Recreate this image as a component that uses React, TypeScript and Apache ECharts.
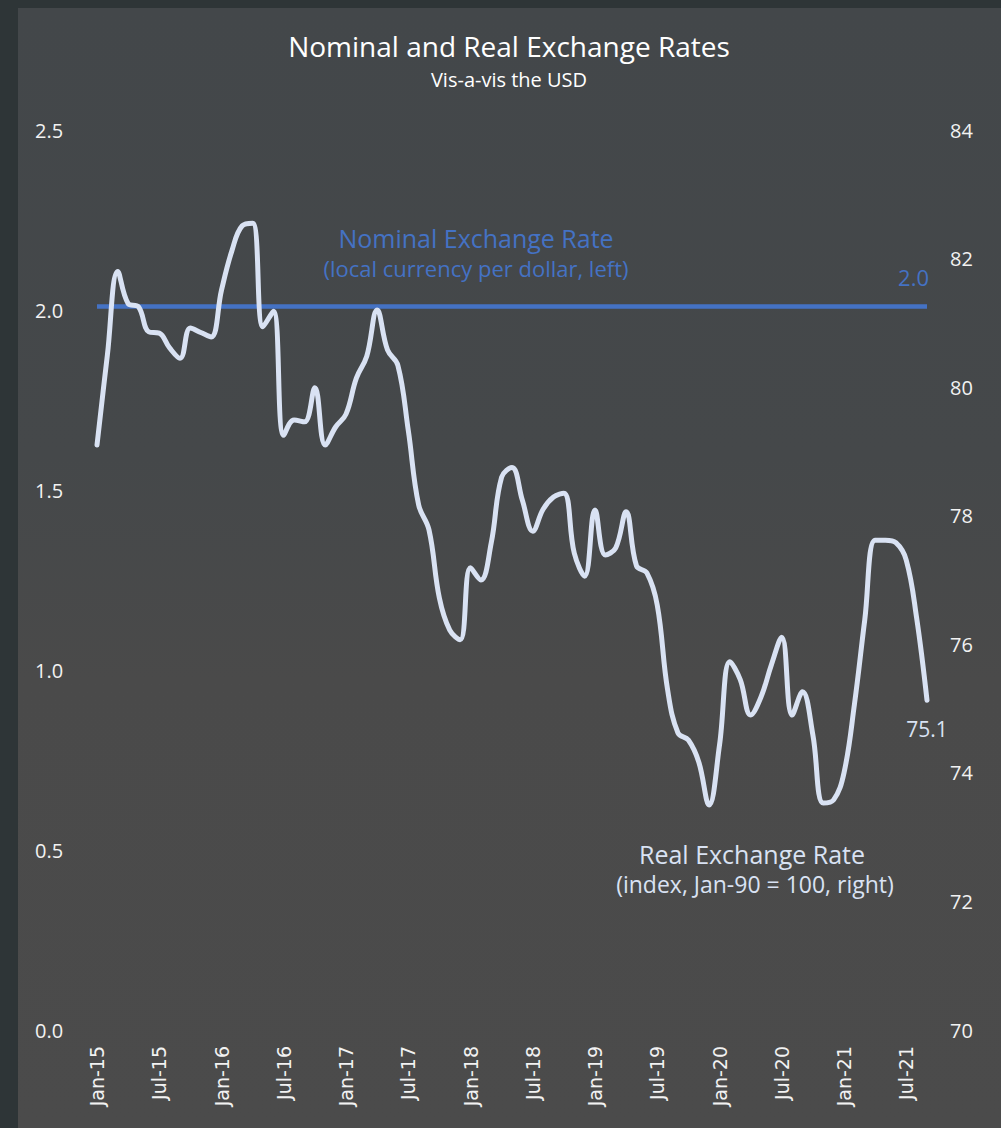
import React, { useEffect, useRef } from "react";
import * as echarts from "echarts";

// ---- Data ----
const MONTHS = ["Jan", "Feb", "Mar", "Apr", "May", "Jun", "Jul", "Aug", "Sep", "Oct", "Nov", "Dec"];
const YEARS = ["15", "16", "17", "18", "19", "20", "21"];
const N_MONTHS = 81; // Jan-15 .. Sep-21
const categories: string[] = [];
for (const y of YEARS) {
  for (const m of MONTHS) {
    if (categories.length < N_MONTHS) categories.push(`${m}-${y}`);
  }
}

// Real exchange rate (index, Jan-90 = 100, right axis)
const realRate = [
  79.1, 80.5, 81.8, 81.3, 81.25, 80.86, 80.84, 80.61, 80.45, 80.92,
  80.85, 80.78, 81.51, 82.12, 82.51, 82.55, 80.94, 81.18, 79.25, 79.49,
  79.46, 79.99, 79.1, 79.38, 79.58, 80.14, 80.48, 81.2, 80.58, 80.34,
  79.33, 78.17, 77.78, 76.72, 76.22, 76.07, 77.19, 77.0, 77.58, 78.6,
  78.75, 78.24, 77.76, 78.1, 78.29, 78.35, 77.42, 77.06, 78.09, 77.39,
  77.5, 78.06, 77.22, 77.11, 76.61, 75.29, 74.62, 74.51, 74.17, 73.5,
  74.43, 75.73, 75.45, 74.9, 75.18, 75.68, 76.11, 74.9, 75.26, 74.59,
  73.53, 73.58, 74.0, 75.06, 76.38, 77.62, 77.62, 77.58, 77.31, 76.41,
  75.13,
];

// Nominal exchange rate (local currency per dollar, left axis)
const nominalRate = [
  2.01, 2.01, 2.01, 2.01, 2.01, 2.01, 2.01, 2.01, 2.01, 2.01,
  2.01, 2.01, 2.01, 2.01, 2.01, 2.01, 2.01, 2.01, 2.01, 2.01,
  2.01, 2.01, 2.01, 2.01, 2.01, 2.01, 2.01, 2.01, 2.01, 2.01,
  2.01, 2.01, 2.01, 2.01, 2.01, 2.01, 2.01, 2.01, 2.01, 2.01,
  2.01, 2.01, 2.01, 2.01, 2.01, 2.01, 2.01, 2.01, 2.01, 2.01,
  2.01, 2.01, 2.01, 2.01, 2.01, 2.01, 2.01, 2.01, 2.01, 2.01,
  2.01, 2.01, 2.01, 2.01, 2.01, 2.01, 2.01, 2.01, 2.01, 2.01,
  2.01, 2.01, 2.01, 2.01, 2.01, 2.01, 2.01, 2.01, 2.01, 2.01,
  2.01,
];

const TITLE = "Nominal and Real Exchange Rates";
const SUBTITLE = "Vis-a-vis the USD";
const NOMINAL_NAME = "Nominal Exchange Rate";
const NOMINAL_NOTE = "(local currency per dollar, left)";
const REAL_NAME = "Real Exchange Rate";
const REAL_NOTE = "(index, Jan-90 = 100, right)";

const BLUE = "#4472C4";
const LIGHT = "#D9E2F3";
const FONT = "'Open Sans', 'Noto Sans', sans-serif";

export default function App() {
  const ref = useRef<HTMLDivElement>(null);

  useEffect(() => {
    if (!ref.current) return;
    const chart = echarts.init(ref.current, null, { renderer: "svg" });
    chart.setOption({
      animation: false,
      backgroundColor: "transparent",
      grid: { left: 97, right: 74, top: 130, bottom: 98, containLabel: false },
      xAxis: {
        type: "category",
        data: categories,
        boundaryGap: false,
        axisLine: { show: false },
        axisTick: { show: false },
        splitLine: { show: false },
        axisLabel: {
          interval: 5,
          rotate: 90,
          margin: 16,
          color: "#f2f2f2",
          fontFamily: "'DejaVu Sans', sans-serif",
          fontSize: 19,
        },
      },
      yAxis: [
        {
          type: "value",
          position: "left",
          min: 0,
          max: 2.5,
          interval: 0.5,
          axisLine: { show: false },
          axisTick: { show: false },
          splitLine: { show: false },
          axisLabel: {
            align: "left",
            margin: 62,
            color: "#f2f2f2",
            fontFamily: FONT,
            fontSize: 20,
            formatter: (v: number) => v.toFixed(1),
          },
        },
        {
          type: "value",
          position: "right",
          min: 70,
          max: 84,
          interval: 2,
          axisLine: { show: false },
          axisTick: { show: false },
          splitLine: { show: false },
          axisLabel: {
            align: "left",
            margin: 23,
            color: "#f2f2f2",
            fontFamily: FONT,
            fontSize: 20,
          },
        },
      ],
      series: [
        {
          name: NOMINAL_NAME,
          type: "line",
          yAxisIndex: 0,
          data: nominalRate,
          symbol: "none",
          lineStyle: { color: BLUE, width: 4.5 },
          endLabel: {
            show: true,
            formatter: (p: any) => Number(p.value).toFixed(1),
            color: BLUE,
            fontFamily: FONT,
            fontSize: 22,
            align: "right",
            distance: 0,
            offset: [2, -29],
          },
          z: 2,
        },
        {
          name: REAL_NAME,
          type: "line",
          yAxisIndex: 1,
          data: realRate,
          symbol: "none",
          smooth: 0.4,
          lineStyle: { color: LIGHT, width: 5, cap: "round", join: "round" },
          endLabel: {
            show: true,
            formatter: (p: any) => Number(p.value).toFixed(1),
            color: LIGHT,
            fontFamily: FONT,
            fontSize: 21,
            align: "center",
            distance: 0,
            offset: [0, 29],
          },
          z: 3,
        },
      ],
      graphic: [
        {
          type: "text",
          x: 509,
          y: 46,
          style: { text: TITLE, fill: "#ffffff", font: `28px ${FONT}`, textAlign: "center", textVerticalAlign: "middle" },
        },
        {
          type: "text",
          x: 509,
          y: 79,
          style: { text: SUBTITLE, fill: "#ffffff", font: `20px ${FONT}`, textAlign: "center", textVerticalAlign: "middle" },
        },
        {
          type: "text",
          x: 476,
          y: 238,
          style: { text: NOMINAL_NAME, fill: BLUE, font: `25px ${FONT}`, textAlign: "center", textVerticalAlign: "middle" },
        },
        {
          type: "text",
          x: 476,
          y: 268,
          style: { text: NOMINAL_NOTE, fill: BLUE, font: `22px ${FONT}`, textAlign: "center", textVerticalAlign: "middle" },
        },
        {
          type: "text",
          x: 752,
          y: 854,
          style: { text: REAL_NAME, fill: LIGHT, font: `25px ${FONT}`, textAlign: "center", textVerticalAlign: "middle" },
        },
        {
          type: "text",
          x: 755,
          y: 884,
          style: { text: REAL_NOTE, fill: LIGHT, font: `23px ${FONT}`, textAlign: "center", textVerticalAlign: "middle" },
        },
      ],
    });
    return () => chart.dispose();
  }, []);

  return (
    <div
      style={{
        position: "absolute",
        left: 0,
        top: 0,
        width: 1001,
        height: 1128,
        background: "#2e3537",
        overflow: "hidden",
      }}
    >
      <div
        style={{
          position: "absolute",
          left: 18,
          top: 8,
          right: 0,
          bottom: 0,
          background: "linear-gradient(180deg, #43474a 0%, #45484a 40%, #4a4a4a 60%, #4b4b4b 100%)",
        }}
      />
      <div ref={ref} style={{ position: "absolute", left: 0, top: 0, width: 1001, height: 1128 }} />
    </div>
  );
}
